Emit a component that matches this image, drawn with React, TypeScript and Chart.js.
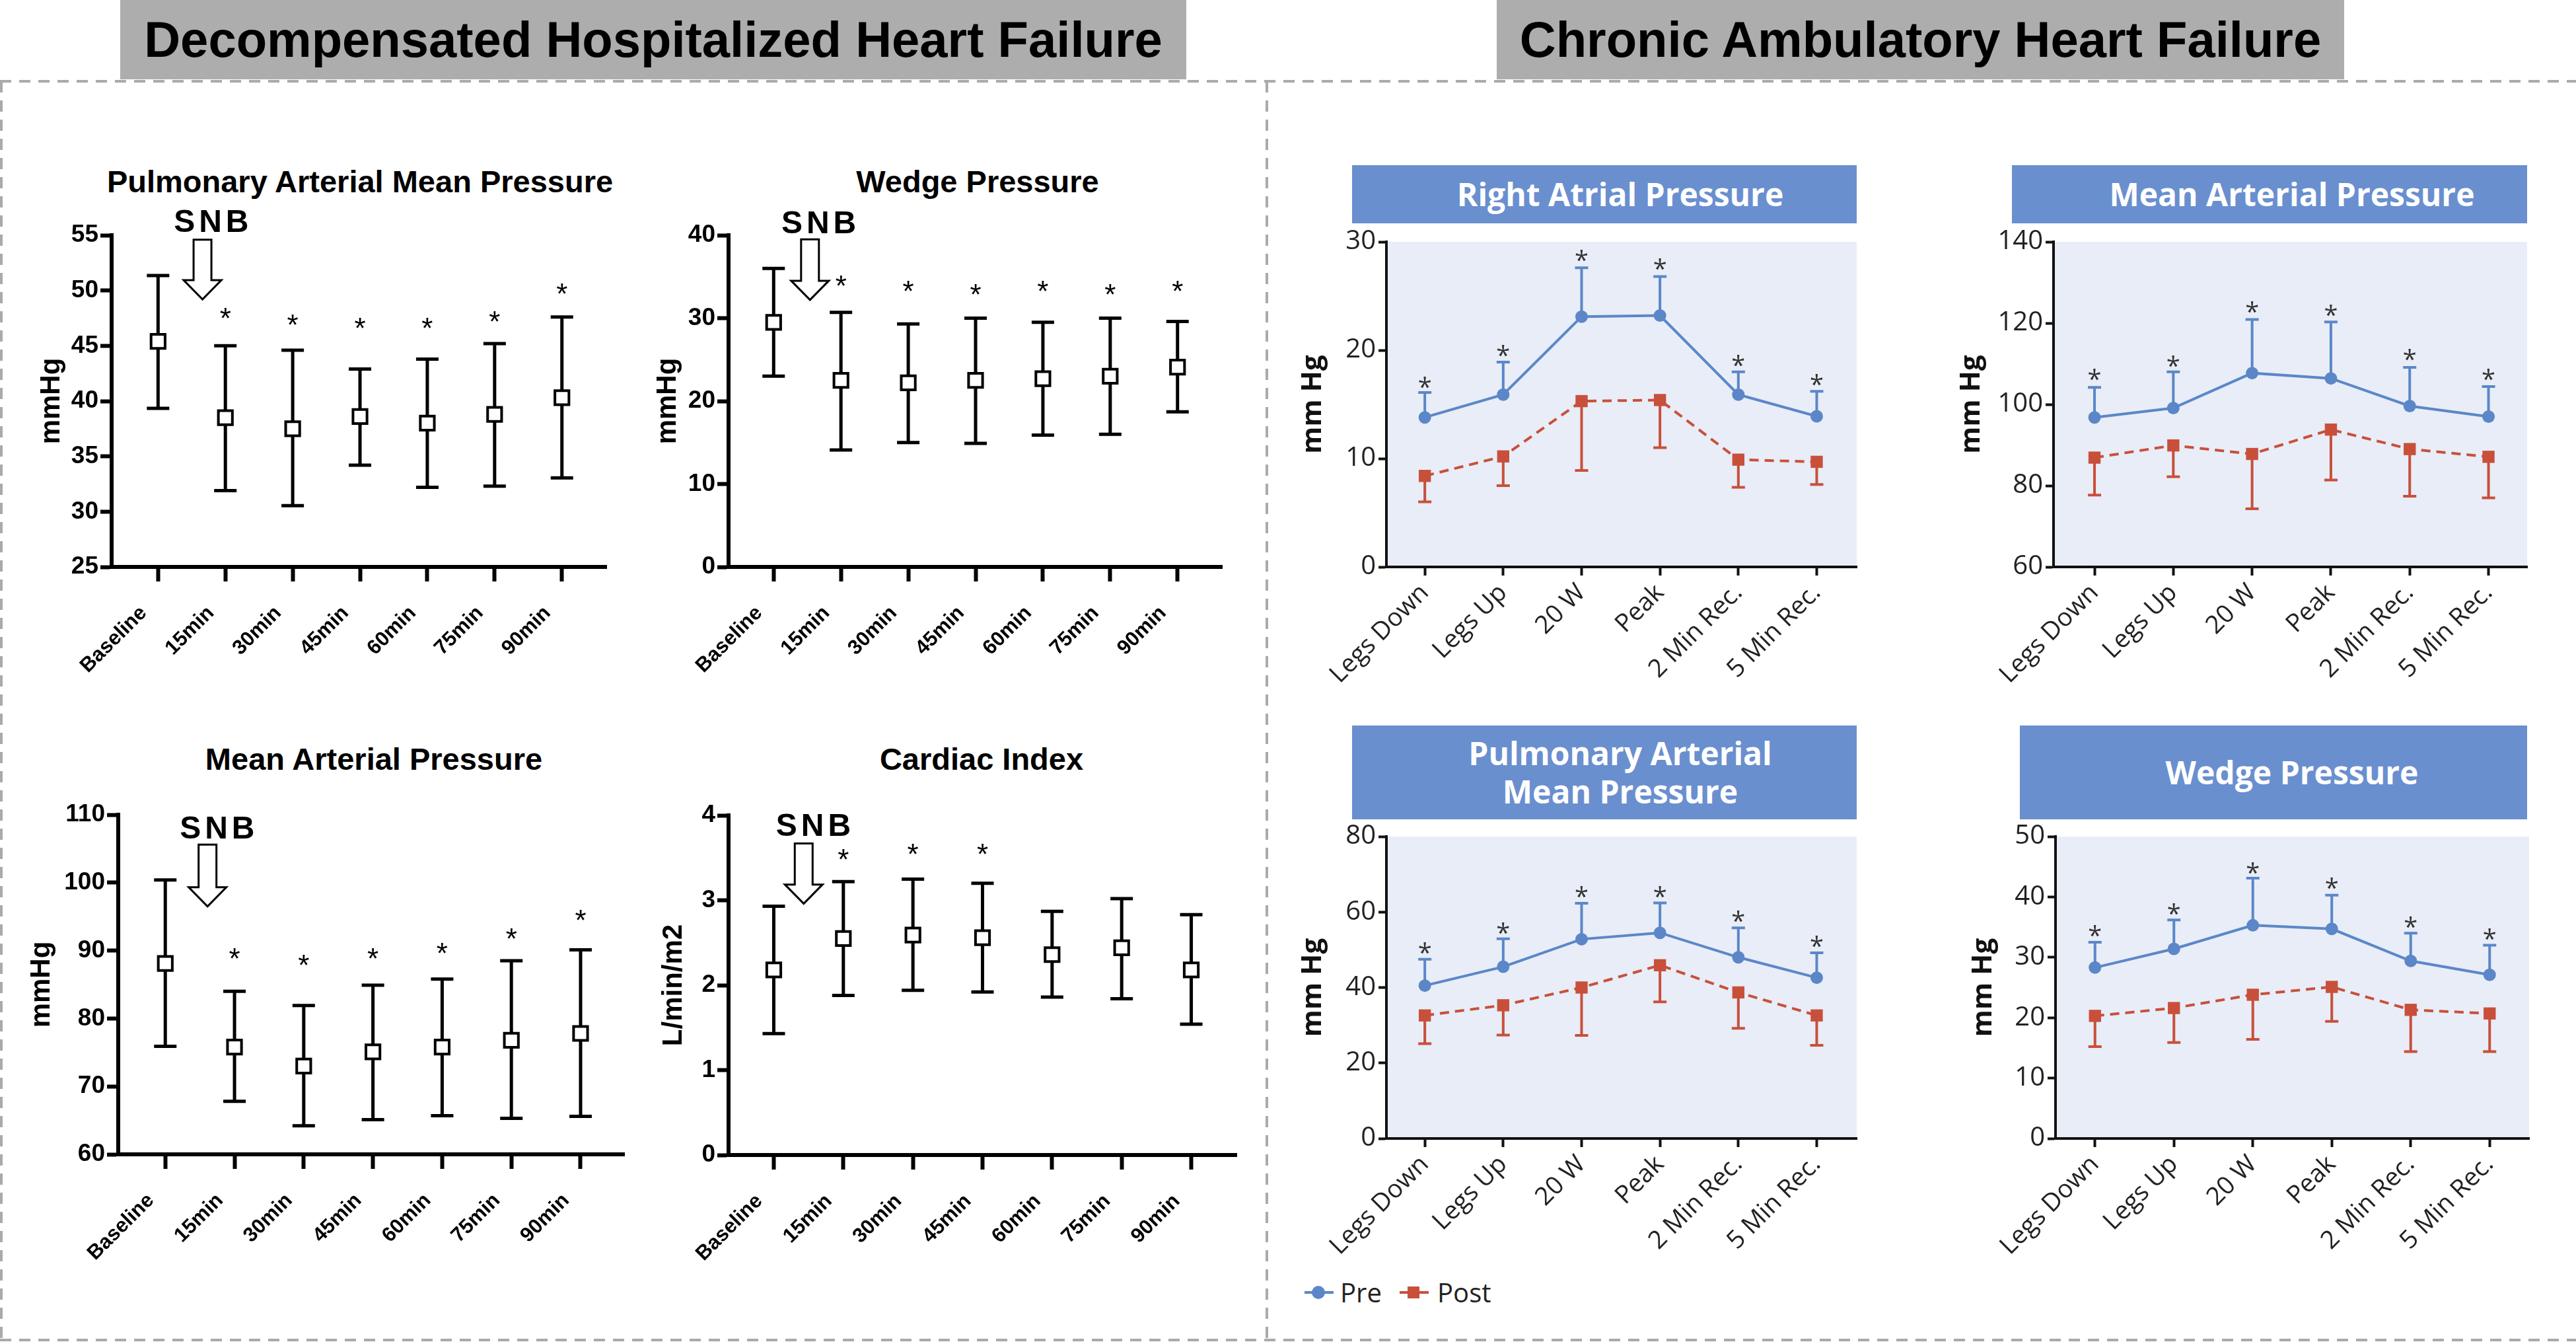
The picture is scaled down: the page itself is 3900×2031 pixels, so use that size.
import React, { useEffect, useRef } from 'react';
import { Chart, registerables } from 'chart.js';

Chart.register(...registerables);

// ---------------- Data: Decompensated Hospitalized Heart Failure ----------------
const timepoints = ['Baseline', '15min', '30min', '45min', '60min', '75min', '90min'];

const pampMean = [45.4, 38.5, 37.5, 38.6, 38.0, 38.8, 40.3];
const pampUpper = [51.35, 45.0, 44.6, 42.9, 43.8, 45.2, 47.6];
const pampLower = [39.35, 31.9, 30.55, 34.2, 32.2, 32.3, 33.05];
const pampStars = [null, 48.1, 47.5, 47.2, 47.2, 47.8, 50.3];

const wedgeMean = [29.5, 22.5, 22.2, 22.5, 22.7, 23.0, 24.1];
const wedgeUpper = [36.0, 30.7, 29.3, 30.0, 29.5, 30.0, 29.6];
const wedgeLower = [23.0, 14.1, 15.0, 14.9, 15.9, 16.0, 18.7];
const wedgeStars = [null, 34.7, 34.1, 33.7, 34.1, 33.7, 34.1];

const mapMean = [88.1, 75.8, 73.0, 75.1, 75.8, 76.8, 77.8];
const mapUpper = [100.4, 84.0, 81.9, 84.9, 85.8, 88.5, 90.1];
const mapLower = [75.9, 67.8, 64.2, 65.1, 65.7, 65.3, 65.6];
const mapStars = [null, 89.8, 88.8, 89.8, 90.6, 92.7, 95.5];

const ciMean = [2.18, 2.55, 2.59, 2.56, 2.36, 2.44, 2.18];
const ciUpper = [2.93, 3.22, 3.25, 3.2, 2.87, 3.02, 2.83];
const ciLower = [1.43, 1.88, 1.94, 1.92, 1.86, 1.84, 1.54];
const ciStars = [null, 3.56, 3.62, 3.62, null, null, null];

// ---------------- Data: Chronic Ambulatory Heart Failure ----------------
const stages = ['Legs Down', 'Legs Up', '20 W', 'Peak', '2 Min Rec.', '5 Min Rec.'];

const rapPre = [13.8, 15.9, 23.1, 23.2, 15.9, 13.9];
const rapPreUpper = [16.1, 18.9, 27.6, 26.8, 18.0, 16.2];
const rapStars = [17.2, 20.1, 28.9, 28.1, 19.2, 17.4];
const rapPost = [8.4, 10.2, 15.3, 15.4, 9.9, 9.7];
const rapPostLower = [6.0, 7.5, 8.9, 11.0, 7.35, 7.6];

const mapRPre = [96.8, 99.1, 107.7, 106.4, 99.6, 97.0];
const mapRPreUpper = [104.2, 108.0, 120.9, 120.3, 109.1, 104.4];
const mapRStars = [107.7, 111.1, 124.4, 123.6, 112.6, 107.7];
const mapRPost = [86.9, 89.9, 87.8, 93.8, 89.0, 87.1];
const mapRPostLower = [77.7, 82.2, 74.3, 81.4, 77.4, 77.0];

const paRPre = [40.5, 45.5, 52.8, 54.5, 48.0, 42.6];
const paRPreUpper = [47.5, 52.9, 62.3, 62.4, 55.8, 49.2];
const paRStars = [50.9, 56.2, 65.7, 65.7, 59.3, 52.6];
const paRPost = [32.6, 35.3, 40.0, 45.9, 38.7, 32.6];
const paRPostLower = [25.1, 27.4, 27.3, 36.2, 29.2, 24.7];

const wedgeRPre = [28.3, 31.4, 35.3, 34.7, 29.4, 27.1];
const wedgeRPreUpper = [32.5, 36.2, 43.1, 40.3, 34.0, 32.0];
const wedgeRStars = [34.7, 38.3, 45.1, 42.5, 36.1, 34.1];
const wedgeRPost = [20.3, 21.6, 23.8, 25.1, 21.3, 20.7];
const wedgeRPostLower = [15.2, 15.9, 16.4, 19.4, 14.4, 14.4];

// ---------------- Styles ----------------
const ARIAL = "'Liberation Sans', Arial, Helvetica, sans-serif";
const OPEN = "'Open Sans', 'Noto Sans', 'DejaVu Sans', sans-serif";
const BLUE = '#5b87c8';
const RED = '#c8503b';
const HEADER_BLUE = '#6a8fcf';
const PLOT_BG = '#e8edf7';
const GRAY_HEADER = '#adadad';

type Box = { cx: number; cy: number; cw: number; ch: number; L: number; T: number; R: number; B: number };

type LeftSpec = {
  box: Box; labels: string[]; mean: number[]; upper: number[]; lower: number[]; stars: (number | null)[];
  yMin: number; yMax: number; yStep: number; xMin: number; xMax: number; yTitle: string;
  snb: { textX: number; textY: number; arrowX: number; arrowTop: number; arrowTip: number };
};

type RightSpec = {
  box: Box; labels: string[]; pre: number[]; preUpper: number[]; stars: number[]; post: number[]; postLower: number[];
  yMin: number; yMax: number; yStep: number; xMin: number; xMax: number;
};

function fixedLayout(b: Box) {
  return { autoPadding: false, padding: { top: b.T - b.cy, right: b.cx + b.cw - b.R, left: 0, bottom: 0 } };
}

function leftDecor(s: LeftSpec) {
  return {
    id: 'leftDecor',
    beforeDatasetsDraw(chart: any) {
      const { ctx } = chart;
      const xs = chart.scales.x;
      const ys = chart.scales.y;
      ctx.save();
      ctx.strokeStyle = '#000';
      ctx.lineWidth = 5;
      s.mean.forEach((_, i) => {
        const x = xs.getPixelForValue(i);
        const y1 = ys.getPixelForValue(s.upper[i]);
        const y2 = ys.getPixelForValue(s.lower[i]);
        ctx.beginPath();
        ctx.moveTo(x, y1); ctx.lineTo(x, y2);
        ctx.moveTo(x - 17, y1); ctx.lineTo(x + 17, y1);
        ctx.moveTo(x - 17, y2); ctx.lineTo(x + 17, y2);
        ctx.stroke();
      });
      ctx.restore();
    },
    afterDatasetsDraw(chart: any) {
      const { ctx } = chart;
      const xs = chart.scales.x;
      const ys = chart.scales.y;
      ctx.save();
      ctx.fillStyle = '#000';
      ctx.font = `44px ${ARIAL}`;
      ctx.textAlign = 'center';
      ctx.textBaseline = 'alphabetic';
      s.stars.forEach((v, i) => {
        if (v == null) return;
        ctx.fillText('*', xs.getPixelForValue(i), ys.getPixelForValue(v) + 0.58 * 44);
      });
      ctx.restore();
    },
    afterDraw(chart: any) {
      const { ctx } = chart;
      const xs = chart.scales.x;
      const ys = chart.scales.y;
      const a = s.snb;
      ctx.save();
      ctx.fillStyle = '#000';
      ctx.font = `bold 48px ${ARIAL}`;
      try { (ctx as any).letterSpacing = '6px'; } catch (e) { /* ignore */ }
      ctx.textAlign = 'center';
      ctx.textBaseline = 'alphabetic';
      ctx.fillText('SNB', xs.getPixelForValue(a.textX) + 3, ys.getPixelForValue(a.textY) + 0.358 * 48);
      try { (ctx as any).letterSpacing = '0px'; } catch (e) { /* ignore */ }
      const x = xs.getPixelForValue(a.arrowX);
      const top = ys.getPixelForValue(a.arrowTop);
      const tip = ys.getPixelForValue(a.arrowTip);
      const sw = 13.5, hw = 28.5, hh = 29;
      ctx.beginPath();
      ctx.moveTo(x - sw, top);
      ctx.lineTo(x + sw, top);
      ctx.lineTo(x + sw, tip - hh);
      ctx.lineTo(x + hw, tip - hh);
      ctx.lineTo(x, tip);
      ctx.lineTo(x - hw, tip - hh);
      ctx.lineTo(x - sw, tip - hh);
      ctx.closePath();
      ctx.fillStyle = '#fff';
      ctx.fill();
      ctx.lineWidth = 3;
      ctx.strokeStyle = '#000';
      ctx.stroke();
      ctx.restore();
    },
  };
}

function leftConfig(s: LeftSpec): any {
  const b = s.box;
  return {
    type: 'line',
    data: {
      datasets: [{
        data: s.mean.map((y, i) => ({ x: i, y })),
        showLine: false,
        pointStyle: 'rect',
        pointRadius: 15,
        pointHoverRadius: 15,
        pointBorderWidth: 4,
        pointHoverBorderWidth: 4,
        pointBorderColor: '#000',
        pointBackgroundColor: '#fff',
        borderColor: '#000',
        clip: false,
      }],
    },
    options: {
      responsive: false,
      maintainAspectRatio: false,
      animation: false,
      devicePixelRatio: 1,
      events: [],
      layout: fixedLayout(b),
      plugins: { legend: { display: false }, tooltip: { enabled: false }, title: { display: false } },
      scales: {
        x: {
          type: 'linear', min: s.xMin, max: s.xMax,
          afterBuildTicks: (sc: any) => { sc.ticks = s.labels.map((_, i) => ({ value: i })); },
          afterFit: (sc: any) => { sc.height = b.cy + b.ch - b.B; },
          ticks: {
            autoSkip: false, minRotation: 45, maxRotation: 45, padding: 8, color: '#000',
            font: { family: ARIAL, size: 31, weight: 'bold' },
            callback: (v: any) => (s.labels[v] != null ? s.labels[v] + '\u2003' : ''),
          },
          grid: { drawOnChartArea: false, drawTicks: true, tickLength: 22, tickWidth: 6, tickColor: '#000' },
          border: { display: true, width: 6, color: '#000' },
        },
        y: {
          type: 'linear', min: s.yMin, max: s.yMax,
          afterFit: (sc: any) => { sc.width = b.L - b.cx; },
          ticks: { stepSize: s.yStep, padding: 3, color: '#000', font: { family: ARIAL, size: 37, weight: 'bold' } },
          grid: { drawOnChartArea: false, drawTicks: true, tickLength: 17, tickWidth: 6, tickColor: '#000' },
          border: { display: true, width: 6, color: '#000' },
          title: {
            display: true, text: s.yTitle, color: '#000',
            font: { family: ARIAL, size: 42, weight: 'bold' }, padding: { top: 4, bottom: 4 },
          },
        },
      },
    },
    plugins: [leftDecor(s)],
  };
}

function rightDecor(s: RightSpec) {
  return {
    id: 'rightDecor',
    beforeDraw(chart: any) {
      const { ctx, chartArea: a } = chart;
      ctx.save();
      ctx.fillStyle = PLOT_BG;
      ctx.fillRect(a.left, a.top, a.right - a.left, a.bottom - a.top);
      ctx.restore();
    },
    beforeDatasetsDraw(chart: any) {
      const { ctx } = chart;
      const xs = chart.scales.x;
      const ys = chart.scales.y;
      ctx.save();
      ctx.lineWidth = 4;
      s.pre.forEach((v, i) => {
        const x = xs.getPixelForValue(i);
        const y0 = ys.getPixelForValue(v);
        const y1 = ys.getPixelForValue(s.preUpper[i]);
        ctx.strokeStyle = BLUE;
        ctx.beginPath();
        ctx.moveTo(x, y0); ctx.lineTo(x, y1);
        ctx.moveTo(x - 10, y1); ctx.lineTo(x + 10, y1);
        ctx.stroke();
      });
      s.post.forEach((v, i) => {
        const x = xs.getPixelForValue(i);
        const y0 = ys.getPixelForValue(v);
        const y1 = ys.getPixelForValue(s.postLower[i]);
        ctx.strokeStyle = RED;
        ctx.beginPath();
        ctx.moveTo(x, y0); ctx.lineTo(x, y1);
        ctx.moveTo(x - 10, y1); ctx.lineTo(x + 10, y1);
        ctx.stroke();
      });
      ctx.restore();
    },
    afterDatasetsDraw(chart: any) {
      const { ctx } = chart;
      const xs = chart.scales.x;
      const ys = chart.scales.y;
      ctx.save();
      ctx.fillStyle = '#333';
      ctx.font = `38px ${OPEN}`;
      ctx.textAlign = 'center';
      ctx.textBaseline = 'alphabetic';
      s.stars.forEach((v, i) => {
        if (v == null) return;
        ctx.fillText('*', xs.getPixelForValue(i), ys.getPixelForValue(v) + 0.6 * 38);
      });
      ctx.restore();
    },
  };
}

function rightConfig(s: RightSpec): any {
  const b = s.box;
  return {
    type: 'line',
    data: {
      datasets: [
        {
          label: 'Post',
          data: s.post.map((y, i) => ({ x: i, y })),
          borderColor: RED, borderWidth: 4, borderDash: [14, 9], tension: 0,
          pointStyle: 'rect', pointRadius: 13, pointHoverRadius: 13,
          pointBackgroundColor: RED, pointBorderColor: RED, pointBorderWidth: 0,
          clip: false,
        },
        {
          label: 'Pre',
          data: s.pre.map((y, i) => ({ x: i, y })),
          borderColor: BLUE, borderWidth: 4, tension: 0,
          pointStyle: 'circle', pointRadius: 9.5, pointHoverRadius: 9.5,
          pointBackgroundColor: BLUE, pointBorderColor: BLUE, pointBorderWidth: 0,
          clip: false,
        },
      ],
    },
    options: {
      responsive: false,
      maintainAspectRatio: false,
      animation: false,
      devicePixelRatio: 1,
      events: [],
      layout: fixedLayout(b),
      plugins: { legend: { display: false }, tooltip: { enabled: false }, title: { display: false } },
      scales: {
        x: {
          type: 'linear', min: s.xMin, max: s.xMax,
          afterBuildTicks: (sc: any) => { sc.ticks = s.labels.map((_, i) => ({ value: i })); },
          afterFit: (sc: any) => { sc.height = b.cy + b.ch - b.B; },
          ticks: {
            autoSkip: false, minRotation: 45, maxRotation: 45, padding: 4, color: '#222',
            font: { family: OPEN, size: 38 },
            callback: (v: any) => s.labels[v] ?? '',
          },
          grid: { drawOnChartArea: false, drawTicks: true, tickLength: 13, tickWidth: 4, tickColor: '#111' },
          border: { display: true, width: 4, color: '#111' },
        },
        y: {
          type: 'linear', min: s.yMin, max: s.yMax,
          afterFit: (sc: any) => { sc.width = b.L - b.cx; },
          ticks: { stepSize: s.yStep, padding: 4, color: '#222', font: { family: OPEN, size: 40 } },
          grid: { drawOnChartArea: false, drawTicks: true, tickLength: 12, tickWidth: 4, tickColor: '#111' },
          border: { display: true, width: 4, color: '#111' },
          title: {
            display: true, text: 'mm Hg', color: '#111',
            font: { family: OPEN, size: 42, weight: 'bold' }, padding: { top: 0, bottom: 0 },
          },
        },
      },
    },
    plugins: [rightDecor(s)],
  };
}

// ---------------- Panel specs (layout) ----------------
const leftPanels: { title: string; titleX: number; titleY: number; spec: LeftSpec }[] = [
  {
    title: 'Pulmonary Arterial Mean Pressure', titleX: 545, titleY: 275,
    spec: {
      box: { cx: 49, cy: 300, cw: 900, ch: 760, L: 169, T: 356, R: 918, B: 858 },
      labels: timepoints, mean: pampMean, upper: pampUpper, lower: pampLower, stars: pampStars,
      yMin: 25, yMax: 55, yStep: 5, xMin: -0.69, xMax: 6.66, yTitle: 'mmHg',
      snb: { textX: 0.79, textY: 56.3, arrowX: 0.66, arrowTop: 54.6, arrowTip: 49.2 },
    },
  },
  {
    title: 'Wedge Pressure', titleX: 1480, titleY: 275,
    spec: {
      box: { cx: 982, cy: 300, cw: 890, ch: 760, L: 1103, T: 356, R: 1850, B: 858 },
      labels: timepoints, mean: wedgeMean, upper: wedgeUpper, lower: wedgeLower, stars: wedgeStars,
      yMin: 0, yMax: 40, yStep: 10, xMin: -0.67, xMax: 6.66, yTitle: 'mmHg',
      snb: { textX: 0.67, textY: 41.6, arrowX: 0.54, arrowTop: 39.5, arrowTip: 32.2 },
    },
  },
  {
    title: 'Mean Arterial Pressure', titleX: 566, titleY: 1149,
    spec: {
      box: { cx: 34, cy: 1170, cw: 926, ch: 790, L: 179, T: 1233, R: 945, B: 1747 },
      labels: timepoints, mean: mapMean, upper: mapUpper, lower: mapLower, stars: mapStars,
      yMin: 60, yMax: 110, yStep: 10, xMin: -0.68, xMax: 6.63, yTitle: 'mmHg',
      snb: { textX: 0.75, textY: 108.2, arrowX: 0.61, arrowTop: 105.6, arrowTip: 96.5 },
    },
  },
  {
    title: 'Cardiac Index', titleX: 1486, titleY: 1149,
    spec: {
      box: { cx: 991, cy: 1170, cw: 899, ch: 790, L: 1103, T: 1234, R: 1872, B: 1748 },
      labels: timepoints, mean: ciMean, upper: ciUpper, lower: ciLower, stars: ciStars,
      yMin: 0, yMax: 4, yStep: 1, xMin: -0.65, xMax: 6.65, yTitle: 'L/min/m2',
      snb: { textX: 0.57, textY: 3.89, arrowX: 0.43, arrowTop: 3.67, arrowTip: 2.96 },
    },
  },
];

const rightPanels: { header: string[]; hx: number; hy: number; hw: number; hh: number; shift: number; spec: RightSpec }[] = [
  {
    header: ['Right Atrial Pressure'], hx: 2047, hy: 250, hw: 764, hh: 88, shift: 48,
    spec: {
      box: { cx: 1963, cy: 335, cw: 877, ch: 745, L: 2099, T: 366, R: 2811, B: 858 },
      labels: stages, pre: rapPre, preUpper: rapPreUpper, stars: rapStars, post: rapPost, postLower: rapPostLower,
      yMin: 0, yMax: 30, yStep: 10, xMin: -0.49, xMax: 5.51,
    },
  },
  {
    header: ['Mean Arterial Pressure'], hx: 3046, hy: 250, hw: 780, hh: 88, shift: 68,
    spec: {
      box: { cx: 2960, cy: 335, cw: 900, ch: 745, L: 3109, T: 366, R: 3826, B: 858 },
      labels: stages, pre: mapRPre, preUpper: mapRPreUpper, stars: mapRStars, post: mapRPost, postLower: mapRPostLower,
      yMin: 60, yMax: 140, yStep: 20, xMin: -0.52, xMax: 5.49,
    },
  },
  {
    header: ['Pulmonary Arterial', 'Mean Pressure'], hx: 2047, hy: 1098, hw: 764, hh: 142, shift: 48,
    spec: {
      box: { cx: 1963, cy: 1235, cw: 877, ch: 690, L: 2099, T: 1266, R: 2811, B: 1723 },
      labels: stages, pre: paRPre, preUpper: paRPreUpper, stars: paRStars, post: paRPost, postLower: paRPostLower,
      yMin: 0, yMax: 80, yStep: 20, xMin: -0.49, xMax: 5.51,
    },
  },
  {
    header: ['Wedge Pressure'], hx: 3058, hy: 1098, hw: 768, hh: 142, shift: 56,
    spec: {
      box: { cx: 2978, cy: 1235, cw: 882, ch: 690, L: 3112, T: 1266, R: 3829, B: 1723 },
      labels: stages, pre: wedgeRPre, preUpper: wedgeRPreUpper, stars: wedgeRStars, post: wedgeRPost, postLower: wedgeRPostLower,
      yMin: 0, yMax: 50, yStep: 10, xMin: -0.5, xMax: 5.5,
    },
  },
];

function ChartCanvas({ box, makeConfig }: { box: Box; makeConfig: () => any }) {
  const ref = useRef<HTMLCanvasElement | null>(null);
  useEffect(() => {
    if (!ref.current) return;
    const chart = new Chart(ref.current, makeConfig());
    return () => chart.destroy();
  }, []);
  return (
    <canvas
      ref={ref}
      width={box.cw}
      height={box.ch}
      style={{ position: 'absolute', left: box.cx, top: box.cy, width: box.cw, height: box.ch }}
    />
  );
}

export default function App() {
  return (
    <div style={{ position: 'absolute', left: 0, top: 0, width: 3900, height: 2031, background: '#fff', overflow: 'hidden' }}>
      {/* dashed frame */}
      <svg width={3900} height={2031} style={{ position: 'absolute', left: 0, top: 0 }}>
        <g stroke="#aaaaaa" strokeWidth={4} strokeDasharray="17 12" fill="none">
          <line x1={0} y1={123} x2={3900} y2={123} />
          <line x1={2} y1={123} x2={2} y2={2028} />
          <line x1={1918} y1={123} x2={1918} y2={2028} />
          <line x1={0} y1={2028} x2={3900} y2={2028} />
        </g>
      </svg>

      {/* main headers */}
      <div style={{
        position: 'absolute', left: 182, top: 0, width: 1614, height: 120, background: GRAY_HEADER,
        font: `bold 76px ${ARIAL}`, lineHeight: '120px', textAlign: 'center', color: '#000', whiteSpace: 'nowrap',
      }}>Decompensated Hospitalized Heart Failure</div>
      <div style={{
        position: 'absolute', left: 2266, top: 0, width: 1283, height: 120, background: GRAY_HEADER,
        font: `bold 76px ${ARIAL}`, lineHeight: '120px', textAlign: 'center', color: '#000', whiteSpace: 'nowrap',
      }}>Chronic Ambulatory Heart Failure</div>

      {/* left panel titles */}
      {leftPanels.map((p) => (
        <div key={p.title} style={{
          position: 'absolute', left: p.titleX - 600, top: p.titleY - 30, width: 1200, height: 60,
          font: `bold 47px ${ARIAL}`, lineHeight: '60px', textAlign: 'center', color: '#000', whiteSpace: 'nowrap',
        }}>{p.title}</div>
      ))}

      {/* right panel headers */}
      {rightPanels.map((p) => (
        <div key={p.header.join(' ')} style={{
          position: 'absolute', left: p.hx, top: p.hy, width: p.hw, height: p.hh, background: HEADER_BLUE,
          display: 'flex', flexDirection: 'column', justifyContent: 'center', alignItems: 'center',
          boxSizing: 'border-box', paddingLeft: p.shift,
          font: `bold 48px ${OPEN}`, lineHeight: '58px', color: '#fff', whiteSpace: 'nowrap',
        }}>
          {p.header.map((l) => <div key={l}>{l}</div>)}
        </div>
      ))}

      {leftPanels.map((p) => (
        <ChartCanvas key={'c-' + p.title} box={p.spec.box} makeConfig={() => leftConfig(p.spec)} />
      ))}
      {rightPanels.map((p) => (
        <ChartCanvas key={'c-' + p.header.join(' ')} box={p.spec.box} makeConfig={() => rightConfig(p.spec)} />
      ))}

      {/* legend (Pre / Post) */}
      <div style={{ position: 'absolute', left: 1975, top: 1954, width: 44, height: 4, background: BLUE }} />
      <div style={{ position: 'absolute', left: 1986, top: 1946, width: 20, height: 20, borderRadius: '50%', background: BLUE }} />
      <div style={{ position: 'absolute', left: 2029, top: 1928, height: 56, font: `40px ${OPEN}`, lineHeight: '56px', color: '#222' }}>Pre</div>
      <div style={{ position: 'absolute', left: 2119, top: 1954, width: 44, height: 4, background: RED }} />
      <div style={{ position: 'absolute', left: 2131, top: 1947, width: 18, height: 18, background: RED }} />
      <div style={{ position: 'absolute', left: 2176, top: 1928, height: 56, font: `40px ${OPEN}`, lineHeight: '56px', color: '#222' }}>Post</div>
    </div>
  );
}
